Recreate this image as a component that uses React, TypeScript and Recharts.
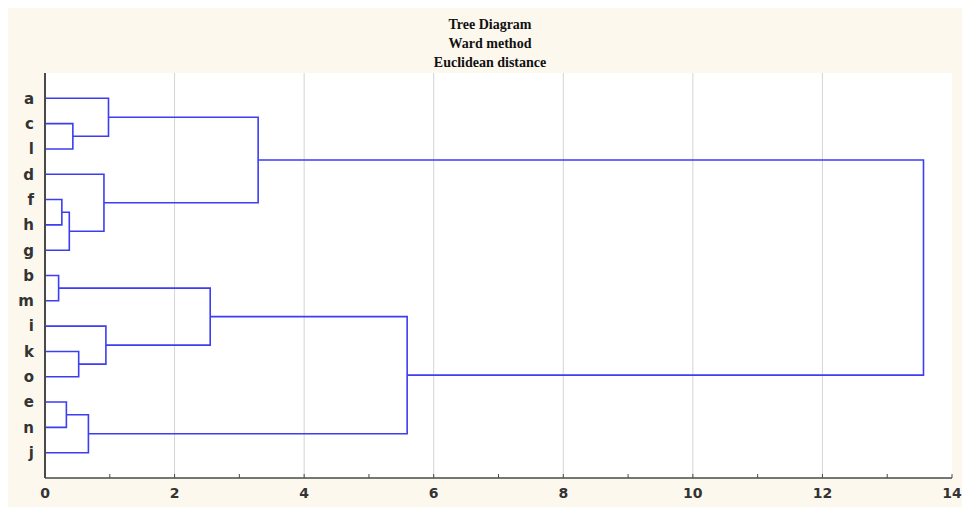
import React from 'react';
import { LineChart, Line, XAxis, YAxis, CartesianGrid } from 'recharts';

// Leaf order (top to bottom)
const leaves = ['a', 'c', 'l', 'd', 'f', 'h', 'g', 'b', 'm', 'i', 'k', 'o', 'e', 'n', 'j'];
// Agglomeration steps: indices < 15 are leaves, >= 15 refer to earlier merges (15 + step)
const mergeLeft = [1, 0, 4, 17, 3, 16, 7, 10, 9, 21, 12, 25, 24, 20];
const mergeRight = [2, 15, 5, 6, 18, 19, 8, 11, 22, 23, 13, 14, 26, 27];
const mergeHeight = [0.43, 0.98, 0.26, 0.375, 0.91, 3.29, 0.21, 0.52, 0.94, 2.55, 0.33, 0.67, 5.59, 13.56];
const xTicks = [0, 1, 2, 3, 4, 5, 6, 7, 8, 9, 10, 11, 12, 13, 14];
const gridValues = [2, 4, 6, 8, 10, 12];
const titleLines = ['Tree Diagram', 'Ward method', 'Euclidean distance'];

type Pt = { x: number; y: number };

function buildLinks(): Pt[][] {
  const nodes: Pt[] = leaves.map((_, i) => ({ x: 0, y: i + 1 }));
  const links: Pt[][] = [];
  mergeHeight.forEach((h, k) => {
    const L = nodes[mergeLeft[k]];
    const R = nodes[mergeRight[k]];
    links.push([
      { x: L.x, y: L.y },
      { x: h, y: L.y },
      { x: h, y: R.y },
      { x: R.x, y: R.y },
    ]);
    nodes.push({ x: h, y: (L.y + R.y) / 2 });
  });
  return links;
}

const links = buildLinks();
const leafTicks = leaves.map((_, i) => i + 1);

const axisColor = '#4a4a4a';
const labelStyle = { fill: '#333', fontFamily: 'DejaVu Sans, sans-serif', fontWeight: 700, fontSize: 14 };

export default function App() {
  return (
    <div style={{ position: 'fixed', left: 0, top: 0, width: 962, height: 507, background: '#ffffff' }}>
      <div style={{ position: 'absolute', left: 8, top: 8, width: 954, height: 499, background: '#fdf8ee' }} />
      <div
        style={{
          position: 'absolute',
          left: 390,
          top: 15,
          width: 200,
          textAlign: 'center',
          fontFamily: '"Liberation Serif", "Times New Roman", serif',
          fontWeight: 700,
          fontSize: 14,
          lineHeight: '19px',
          color: '#111',
        }}
      >
        {titleLines.map((t) => (
          <div key={t}>{t}</div>
        ))}
      </div>
      <div style={{ position: 'absolute', left: 0, top: 0 }}>
        <LineChart width={962} height={507} margin={{ top: 73, right: 10, bottom: 0, left: 5 }}>
          <CartesianGrid fill="#ffffff" horizontal={false} vertical={true} verticalValues={gridValues} stroke="#d4d4d4" />
          <XAxis
            xAxisId={0}
            type="number"
            dataKey="x"
            domain={[0, 14]}
            ticks={xTicks}
            interval={0}
            allowDataOverflow
            height={29}
            tickSize={-4}
            tickMargin={14}
            tickFormatter={(v: number) => (v % 2 === 0 ? String(v) : '')}
            axisLine={{ stroke: axisColor, strokeWidth: 1.5 }}
            tickLine={{ stroke: axisColor }}
            tick={labelStyle}
          />
          <XAxis
            xAxisId="top"
            orientation="top"
            type="number"
            domain={[0, 14]}
            ticks={xTicks}
            interval={0}
            height={0}
            tickSize={-4}
            tick={false}
            axisLine={{ stroke: axisColor, strokeWidth: 1.5 }}
            tickLine={{ stroke: axisColor }}
          />
          <YAxis
            yAxisId={0}
            type="number"
            dataKey="y"
            domain={[0, 16]}
            reversed
            ticks={leafTicks}
            interval={0}
            allowDataOverflow
            width={40}
            tickSize={0}
            tickMargin={11}
            tickLine={false}
            tickFormatter={(v: number) => leaves[v - 1] ?? ''}
            axisLine={{ stroke: axisColor, strokeWidth: 2 }}
            tick={{ ...labelStyle, fontSize: 15 }}
          />
          <YAxis
            yAxisId="right"
            orientation="right"
            type="number"
            domain={[0, 16]}
            reversed
            ticks={leafTicks}
            interval={0}
            width={0}
            tickSize={-4}
            tick={false}
            axisLine={{ stroke: axisColor, strokeWidth: 2 }}
            tickLine={{ stroke: axisColor }}
          />
          {links.map((d, i) => (
            <Line
              key={i}
              data={d}
              dataKey="y"
              type="linear"
              stroke="#3d3df2"
              strokeWidth={1.6}
              dot={false}
              activeDot={false}
              isAnimationActive={false}
            />
          ))}
        </LineChart>
      </div>
    </div>
  );
}
